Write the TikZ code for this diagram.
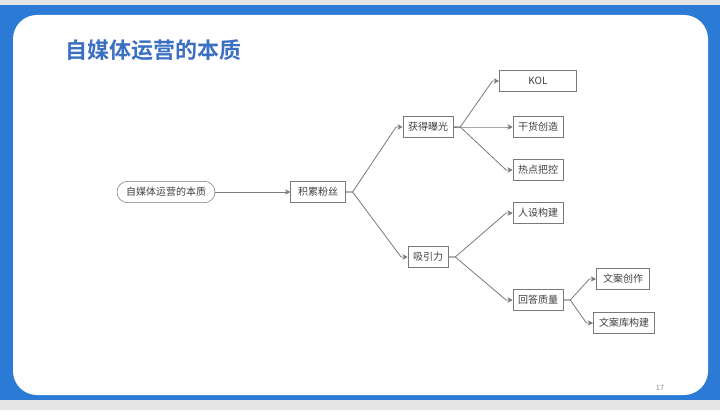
\documentclass[tikz,border=0pt]{standalone}
\usepackage{fontspec}
\setmainfont{Noto Sans CJK SC}
\newfontfamily\cjkbold{Noto Sans CJK SC Bold}
\usetikzlibrary{arrows.meta,positioning}
\definecolor{frameblue}{HTML}{2B7BD6}
\definecolor{titleblue}{HTML}{3B6FC2}
\definecolor{linegray}{HTML}{7A7A7A}
\begin{document}
\begin{tikzpicture}[x=0.75pt,y=-0.75pt,
      box/.style={
         draw=linegray,
         fill=white,
         inner sep=0pt,
         minimum height=16pt,
         font=\fontsize{7.5}{8}\selectfont,
         text=black!75},
      root_box/.style={
         box,
         rounded corners=8pt},
      arrow_gray/.style={
         -{Stealth[length=4pt,width=4pt]},
         draw=linegray,
         line width=0.6pt}
]
      % page
      \useasboundingbox (0,0) rectangle (720,410);
      \fill[black!10] (0,0) rectangle (720,410);
      \fill[frameblue] (0,5) rectangle (720,400);
      \fill[white,rounded corners=18pt] (13,15) rectangle (708,395);
      \node[font=\cjkbold\fontsize{16.5}{18}\selectfont,text=titleblue,anchor=west] (title) at (61,50) {自媒体运营的本质};
      \node[font=\fontsize{5.5}{6}\selectfont,text=black!45] (page) at (660,388) {17};

      % nodes
      \node[root_box,minimum width=73.5pt] (root) at (166,192) {自媒体运营的本质};
      \node[box,minimum width=41pt] (fans) at (318,192) {积累粉丝};
      \node[box,minimum width=37.5pt] (expo) at (428,127) {获得曝光};
      \node[box,minimum width=30pt] (attr) at (428,257) {吸引力};
      \node[box,minimum width=58pt] (kol) at (538,81) {KOL};
      \node[box,minimum width=37.5pt] (dry) at (538,127) {干货创造};
      \node[box,minimum width=37.5pt] (hot) at (538,170) {热点把控};
      \node[box,minimum width=37.5pt] (persona) at (538,213) {人设构建};
      \node[box,minimum width=37.5pt] (answer) at (538,300) {回答质量};
      \node[box,minimum width=40pt] (copy) at (623,279) {文案创作};
      \node[box,minimum width=46pt] (lib) at (624,323) {文案库构建};

      \draw[arrow_gray] (root) -- (fans);
      \foreach \i/\j in {% parent/child
        fans/expo, fans/attr,
        expo/kol, expo/dry, expo/hot,
        attr/persona, attr/answer,
        answer/copy, answer/lib}
        \draw[arrow_gray] (\i.east) -- ++(7,0) -- ([xshift=-5]\j.west) -- (\j.west);
\end{tikzpicture}
\end{document}
